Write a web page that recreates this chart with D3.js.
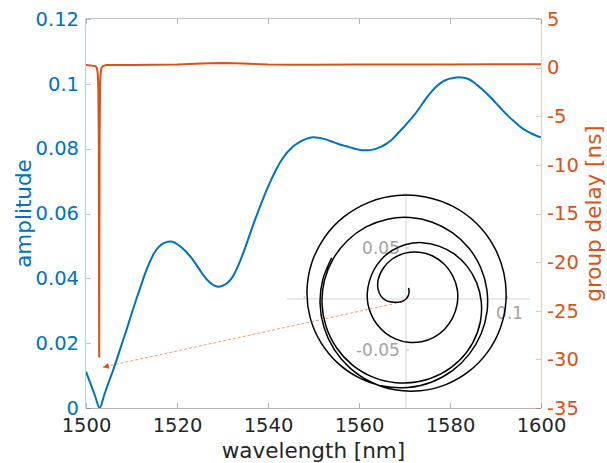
<!DOCTYPE html>
<html><head><meta charset="utf-8">
<script src="https://cdn.jsdelivr.net/npm/d3@7"></script>
<style>
body{margin:0;background:#fff;}
svg{display:block;font-family:"DejaVu Sans",sans-serif;}
</style>
</head><body>
<svg id="c" width="607" height="463"></svg>
<script>
// ---------- data ----------
const wavelength = d3.range(1500, 1601); // 1 nm sampling, 1500..1600
const amplitude = [
 .0112,.0075,.0037,.0000,.0040,.0080,.0118,.0160,.0203,.0245,
 .0290,.0333,.0374,.0415,.0450,.0478,.0497,.0508,.0513,.0513,
 .0506,.0495,.0482,.0466,.0447,.0426,.0406,.0390,.0379,.0374,
 .0377,.0385,.0400,.0425,.0458,.0495,.0535,.0575,.0612,.0648,
 .0682,.0713,.0741,.0765,.0785,.0800,.0812,.0821,.0828,.0833,
 .0835,.0834,.0831,.0827,.0822,.0817,.0812,.0808,.0804,.0800,
 .0797,.0795,.0795,.0797,.0801,.0807,.0815,.0825,.0839,.0854,
 .0869,.0885,.0901,.0920,.0940,.0960,.0977,.0992,.1003,.1011,
 .1016,.1019,.1020,.1019,.1015,.1007,.0996,.0984,.0971,.0957,
 .0942,.0927,.0912,.0898,.0885,.0873,.0862,.0853,.0846,.0840,
 .0835];
// unwrapped phase of the complex response (degrees)
const phaseDeg = [
 76,66,54,-120,-146,-156,-164,-170,-177,-186,
 -199,-215,-233,-251,-269,-286,-302,-318,-334,-350,
 -366,-382,-398,-414,-430,-447,-464,-481,-498,-515,
 -532,-549,-566,-582,-598,-614,-630,-646,-662,-677,
 -692,-707,-722,-737,-753,-769,-785,-801,-817,-833,
 -849,-865,-881,-897,-913,-929,-945,-961,-977,-993,
 -1009,-1025,-1041,-1057,-1073,-1089,-1105,-1121,-1137,-1153,
 -1169,-1185,-1201,-1217,-1233,-1249,-1265,-1281,-1297,-1313,
 -1329,-1345,-1361,-1377,-1393,-1409,-1425,-1441,-1457,-1473,
 -1489,-1505,-1521,-1537,-1553,-1569,-1585,-1601,-1617,-1633,
 -1649];
const gdWavelength = [1500,1502.1,1502.4,1502.6,1502.7,1502.8,1502.85,1502.9,1502.95,1503.0,1503.1,1503.2,1503.4,1503.7,1504.5,1510,1515,1520,1524,1527,1530,1533,1536,1540,1545,1550,1560,1570,1580,1590,1600];
const groupDelay   = [0.28,0.16,-0.06,-0.67,-1.8,-6.7,-16.4,-29.8,-16.4,-6.7,-1.8,-0.67,-0.06,0.16,0.26,0.28,0.29,0.32,0.40,0.46,0.48,0.46,0.40,0.33,0.30,0.30,0.31,0.32,0.33,0.34,0.35];

const xTicks = [1500,1520,1540,1560,1580,1600];
const xTickLabels = ["1500","1520","1540","1560","1580","1600"];
const ampTicks = [0,0.02,0.04,0.06,0.08,0.1,0.12];
const ampTickLabels = ["0","0.02","0.04","0.06","0.08","0.1","0.12"];
const gdTicks = [5,0,-5,-10,-15,-20,-25,-30,-35];
const gdTickLabels = ["5","0","-5","-10","-15","-20","-25","-30","-35"];
const insetXTicks = [-0.1,0.1];
const insetXTickLabels = ["","0.1"];
const insetYTicks = [0.05,-0.05];
const insetYTickLabels = ["0.05","-0.05"];
const arrowFromInset = [0,0];          // spiral zero (inset coords)
const arrowToMain = [1503.7,-30.8];    // near group-delay dip (wavelength, ns)

// ---------- layout ----------
const BLUE="#0072BD", ORANGE="#D95319", DARK="#262626";
const L=86, R=541, T=19, B=408;
const svg = d3.select("#c");
const x  = d3.scaleLinear().domain([1500,1600]).range([L,R]);
const yA = d3.scaleLinear().domain([0,0.12]).range([B,T]);
const yG = d3.scaleLinear().domain([-35,5]).range([B,T]);
// inset (complex plane)
const xi = d3.scaleLinear().domain([-0.117,0.122]).range([287,530]);
const yi = d3.scaleLinear().domain([-0.107,0.104]).range([408,193]);

svg.append("defs").append("clipPath").attr("id","clip")
  .append("rect").attr("x",L).attr("y",T).attr("width",R-L).attr("height",B-T);

// ---------- axes ----------
function styleAxis(g, col, op){
  g.select(".domain").remove();
  g.selectAll(".tick line").attr("stroke",col).attr("stroke-opacity",op).attr("shape-rendering","crispEdges");
}
const fsTick = 19.5;
const gx = svg.append("g").attr("transform",`translate(0,${B})`)
  .call(d3.axisBottom(x).tickValues(xTicks).tickFormat((d,i)=>xTickLabels[i]).tickSizeInner(-5).tickSizeOuter(0).tickPadding(10));
styleAxis(gx, DARK, 0.35);
gx.selectAll("text").attr("fill",DARK).attr("font-size",fsTick).attr("font-family","DejaVu Sans");
const gxt = svg.append("g").attr("transform",`translate(0,${T})`)
  .call(d3.axisTop(x).tickValues(xTicks).tickFormat("").tickSizeInner(-5).tickSizeOuter(0));
styleAxis(gxt, DARK, 0.35);

const gl = svg.append("g").attr("transform",`translate(${L},0)`)
  .call(d3.axisLeft(yA).tickValues(ampTicks).tickFormat((d,i)=>ampTickLabels[i]).tickSizeInner(-5).tickSizeOuter(0).tickPadding(7));
styleAxis(gl, BLUE, 0.35);
gl.selectAll("text").attr("fill",BLUE).attr("font-size",fsTick).attr("font-family","DejaVu Sans");

const gr = svg.append("g").attr("transform",`translate(${R},0)`)
  .call(d3.axisRight(yG).tickValues(gdTicks).tickFormat((d,i)=>gdTickLabels[i]).tickSizeInner(-5).tickSizeOuter(0).tickPadding(6));
styleAxis(gr, ORANGE, 0.35);
gr.selectAll("text").attr("fill",ORANGE).attr("font-size",fsTick).attr("font-family","DejaVu Sans");

// frame lines
const frame = svg.append("g").attr("shape-rendering","crispEdges").attr("stroke-width",1);
frame.append("line").attr("x1",L).attr("x2",R).attr("y1",B+0.5).attr("y2",B+0.5).attr("stroke",DARK).attr("stroke-opacity",0.35);
frame.append("line").attr("x1",L).attr("x2",R).attr("y1",T-0.5).attr("y2",T-0.5).attr("stroke",DARK).attr("stroke-opacity",0.3);
frame.append("line").attr("x1",L-0.5).attr("x2",L-0.5).attr("y1",T).attr("y2",B).attr("stroke",BLUE).attr("stroke-opacity",0.3);
frame.append("line").attr("x1",R+0.5).attr("x2",R+0.5).attr("y1",T).attr("y2",B).attr("stroke",ORANGE).attr("stroke-opacity",0.3);

// axis titles
svg.append("text").attr("x",(L+R)/2).attr("y",458).attr("text-anchor","middle")
  .attr("font-size",21.5).attr("fill",DARK).text("wavelength [nm]");
svg.append("text").attr("transform",`translate(31,${(T+B)/2}) rotate(-90)`).attr("text-anchor","middle")
  .attr("font-size",21.5).attr("fill",BLUE).text("amplitude");
svg.append("text").attr("transform",`translate(601,${(T+B)/2}) rotate(-90)`).attr("text-anchor","middle")
  .attr("font-size",21.5).attr("fill",ORANGE).text("group delay [ns]");

// ---------- main curves ----------
const plot = svg.append("g").attr("clip-path","url(#clip)");
plot.append("path").datum(gdWavelength.map((w,i)=>[w,groupDelay[i]]))
  .attr("fill","none").attr("stroke",ORANGE).attr("stroke-width",2)
  .attr("d", d3.line().x(d=>x(d[0])).y(d=>yG(d[1])));
plot.append("path").datum(wavelength.map((w,i)=>[w,amplitude[i]]))
  .attr("fill","none").attr("stroke",BLUE).attr("stroke-width",2)
  .attr("d", d3.line().x(d=>x(d[0])).y(d=>yA(d[1])).curve(d3.curveCatmullRom.alpha(0.5)));

// ---------- inset ----------
const inset = svg.append("g");
inset.append("line").attr("x1",xi(-0.117)).attr("x2",xi(0.122)).attr("y1",yi(0)).attr("y2",yi(0))
  .attr("stroke","#d4d4d4").attr("stroke-width",1);
inset.append("line").attr("x1",xi(0)).attr("x2",xi(0)).attr("y1",yi(0.104)).attr("y2",yi(-0.107))
  .attr("stroke","#d4d4d4").attr("stroke-width",1);
insetXTicks.forEach((t,i)=>{
  inset.append("line").attr("x1",xi(t)).attr("x2",xi(t)).attr("y1",yi(0)).attr("y2",yi(0)-3)
    .attr("stroke","#bdbdbd");
  if(insetXTickLabels[i]) inset.append("text").attr("x",xi(t)+2).attr("y",yi(0)+8).attr("dy","0.71em")
    .attr("text-anchor","middle").attr("font-size",17).attr("fill","#a3a3a3").text(insetXTickLabels[i]);
});
insetYTicks.forEach((t,i)=>{
  inset.append("line").attr("x1",xi(0)).attr("x2",xi(0)+3).attr("y1",yi(t)).attr("y2",yi(t))
    .attr("stroke","#bdbdbd");
  inset.append("text").attr("x",xi(0)-6).attr("y",yi(t)).attr("dy","0.35em")
    .attr("text-anchor","end").attr("font-size",17).attr("fill","#a3a3a3").text(insetYTickLabels[i]);
});
const spiralPts = wavelength.map((w,i)=>{
  const a = phaseDeg[i]*Math.PI/180;
  return [amplitude[i]*Math.cos(a), amplitude[i]*Math.sin(a)];
});
inset.append("path").datum(spiralPts).attr("fill","none").attr("stroke","#000").attr("stroke-width",1.5)
  .attr("d", d3.line().x(d=>xi(d[0])).y(d=>yi(d[1])).curve(d3.curveCatmullRom.alpha(0.5)));

// ---------- annotation arrow ----------
svg.select("defs").append("marker").attr("id","ah").attr("viewBox","0 0 10 10")
  .attr("refX",10).attr("refY",5).attr("markerWidth",7).attr("markerHeight",6)
  .attr("markerUnits","userSpaceOnUse").attr("orient","auto")
  .append("path").attr("d","M0,0L10,5L0,10z").attr("fill",ORANGE);
svg.append("line")
  .attr("x1",xi(arrowFromInset[0])-4).attr("y1",yi(arrowFromInset[1])+3)
  .attr("x2",x(arrowToMain[0])).attr("y2",yG(arrowToMain[1]))
  .attr("stroke",ORANGE).attr("stroke-opacity",0.6).attr("stroke-width",1)
  .attr("stroke-dasharray","3,2").attr("marker-end","url(#ah)");
</script>
</body></html>
